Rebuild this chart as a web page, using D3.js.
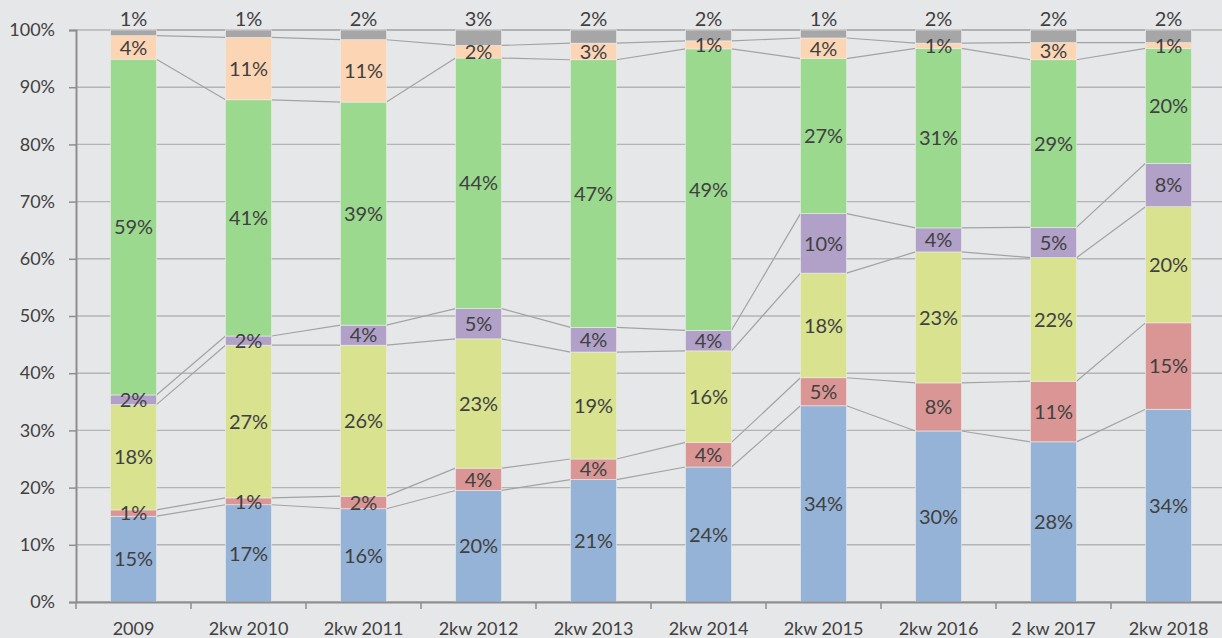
<!DOCTYPE html>
<html>
<head>
<meta charset="utf-8">
<script src="https://cdn.jsdelivr.net/npm/d3@7"></script>
<style>
  body { margin: 0; background: #e6e7e9; }
  svg { display: block; font-family: Lato, "Open Sans", sans-serif; }
</style>
</head>
<body>
<svg class="chart"></svg>
<script>
var margin = {top: 30, right: -4, bottom: 36, left: 76},
    width  = 1222 - margin.left - margin.right,
    height = 638 - margin.top - margin.bottom;

// categories and series (share, %)
const categories = ["2009","2kw 2010","2kw 2011","2kw 2012","2kw 2013","2kw 2014","2kw 2015","2kw 2016","2 kw 2017","2kw 2018"];
const seriesNames = ["s1","s2","s3","s4","s5","s6","s7"];
const s1 = [15.0, 17.0, 16.3, 19.5, 21.4, 23.6, 34.3, 29.9, 28.0, 33.7];
const s2 = [ 1.1,  1.2,  2.2,  3.9,  3.6,  4.3,  4.9,  8.4, 10.6, 15.1];
const s3 = [18.4, 26.7, 26.4, 22.6, 18.7, 16.0, 18.3, 22.9, 21.6, 20.3];
const s4 = [ 1.7,  1.6,  3.5,  5.3,  4.3,  3.6, 10.4,  4.2,  5.3,  7.6];
const s5 = [58.7, 41.3, 39.0, 43.8, 46.8, 49.2, 27.1, 31.4, 29.3, 20.1];
const s6 = [ 4.1, 10.9, 10.9,  2.2,  2.9,  1.4,  3.6,  0.9,  3.0,  1.0];
const s7 = [ 1.0,  1.3,  1.7,  2.7,  2.3,  1.9,  1.4,  2.3,  2.2,  2.2];
const yTicks = [0,10,20,30,40,50,60,70,80,90,100];

const colors = ["#95b3d7","#da9694","#d8e28f","#b1a0c7","#9bd98f","#fcd5b4","#a6a6a6"];
const seriesValues = [s1, s2, s3, s4, s5, s6, s7];

const table = categories.map((c, i) => {
  const row = {cat: c};
  seriesNames.forEach((s, k) => row[s] = seriesValues[k][i]);
  return row;
});

const stacked = d3.stack().keys(seriesNames)(table);

var svg = d3.select("svg.chart")
  .attr("width",  1222)
  .attr("height", 638)
  .append("g")
  .attr("transform", `translate(${margin.left},${margin.top})`);

const x = d3.scaleBand().domain(categories).range([0, width]).paddingInner(0.6).paddingOuter(0.3);
const y = d3.scaleLinear().domain([0, 100]).range([height, 0]);
const step = x.step();
const bw = x.bandwidth();

// gridlines
svg.append("g")
  .selectAll("line")
  .data(yTicks)
  .join("line")
    .attr("x1", 0).attr("x2", width + 10)
    .attr("y1", d => y(d)).attr("y2", d => y(d))
    .attr("stroke", "#b4b4b4")
    .attr("stroke-width", 1.4);

// series lines between bars
const lineG = svg.append("g");
stacked.forEach(layer => {
  for (let i = 0; i < layer.length - 1; i++) {
    lineG.append("line")
      .attr("x1", x(categories[i]) + bw)
      .attr("y1", y(layer[i][1]))
      .attr("x2", x(categories[i + 1]))
      .attr("y2", y(layer[i + 1][1]))
      .attr("stroke", "#a3a3a3")
      .attr("stroke-width", 1.2);
  }
});

// bars
svg.append("g")
  .selectAll("g")
  .data(stacked)
  .join("g")
    .attr("fill", (d, k) => colors[k])
  .selectAll("rect")
  .data(d => d)
  .join("rect")
    .attr("x", d => x(d.data.cat))
    .attr("width", bw)
    .attr("y", d => y(d[1]))
    .attr("height", d => y(d[0]) - y(d[1]))
    .attr("stroke", "#ececec")
    .attr("stroke-width", 0.6);

// data labels
const labelG = svg.append("g")
  .attr("font-size", 20)
  .attr("fill", "#404040")
  .attr("text-anchor", "middle");

stacked.forEach((layer, k) => {
  layer.forEach(d => {
    const last = k === stacked.length - 1;
    const cy = last ? y(d[1]) - 11 : (y(d[0]) + y(d[1])) / 2;
    labelG.append("text")
      .attr("x", x(d.data.cat) + bw / 2)
      .attr("y", cy)
      .attr("dy", "0.36em")
      .text(Math.round(d[1] - d[0]) + "%");
  });
});

// y axis
const yAxis = svg.append("g")
  .call(d3.axisLeft(y).tickValues(yTicks).tickSize(7).tickPadding(14).tickFormat(d => d + "%"));
yAxis.select(".domain").attr("stroke", "#8e8e8e").attr("stroke-width", 2);
yAxis.selectAll(".tick line").attr("stroke", "#8e8e8e").attr("stroke-width", 1.5);
yAxis.selectAll(".tick text")
  .attr("font-size", 18)
  .attr("font-family", "Lato, 'Open Sans', sans-serif")
  .attr("fill", "#404040");

// x axis
const xAxis = svg.append("g")
  .attr("transform", `translate(0,${height})`)
  .call(d3.axisBottom(x).tickSize(0).tickPadding(20));
xAxis.select(".domain").attr("stroke", "#8e8e8e").attr("stroke-width", 2);
xAxis.selectAll(".tick text")
  .attr("font-size", 18)
  .attr("font-family", "Lato, 'Open Sans', sans-serif")
  .attr("fill", "#404040");

xAxis.append("g")
  .selectAll("line")
  .data(d3.range(categories.length))
  .join("line")
    .attr("x1", i => i * step).attr("x2", i => i * step)
    .attr("y1", 0).attr("y2", 7)
    .attr("stroke", "#8e8e8e")
    .attr("stroke-width", 1.5);
</script>
</body>
</html>
